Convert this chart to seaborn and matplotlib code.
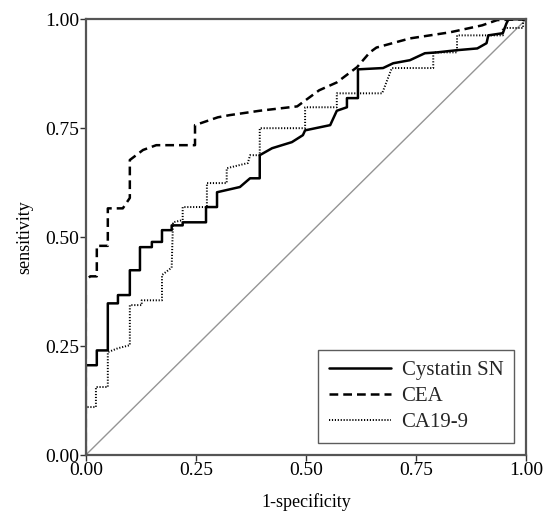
import matplotlib
matplotlib.use("Agg")
import matplotlib.pyplot as plt
import seaborn as sns
import pandas as pd

# ROC curve points
cys_x = [0, 0, 0.025, 0.025, 0.05, 0.05, 0.073, 0.073, 0.10, 0.10,
         0.123, 0.123, 0.15, 0.15, 0.173, 0.173, 0.195, 0.195, 0.22, 0.22,
         0.273, 0.273, 0.298, 0.298, 0.35, 0.373, 0.395, 0.395, 0.423, 0.468,
         0.493, 0.498, 0.555, 0.57, 0.593, 0.593, 0.618, 0.618, 0.675, 0.698,
         0.736, 0.77, 0.798, 0.843, 0.889, 0.91, 0.914, 0.947, 0.955, 0.96, 1.0]
cys_y = [0, 0.206, 0.206, 0.24, 0.24, 0.348, 0.348, 0.367, 0.367, 0.424,
         0.424, 0.477, 0.477, 0.489, 0.489, 0.516, 0.516, 0.527, 0.527, 0.534,
         0.534, 0.569, 0.569, 0.603, 0.615, 0.635, 0.635, 0.688, 0.704, 0.718,
         0.734, 0.745, 0.757, 0.79, 0.798, 0.819, 0.819, 0.885, 0.888, 0.899,
         0.906, 0.922, 0.924, 0.929, 0.933, 0.945, 0.963, 0.968, 0.99, 1.0, 1.0]

cea_x = [0, 0, 0.01, 0.025, 0.025, 0.05, 0.05, 0.084, 0.10, 0.10,
         0.13, 0.16, 0.248, 0.248, 0.30, 0.327, 0.395, 0.48, 0.53, 0.57,
         0.616, 0.645, 0.66, 0.736, 0.827, 0.90, 0.934, 1.0]
cea_y = [0, 0.40, 0.41, 0.41, 0.48, 0.48, 0.566, 0.566, 0.59, 0.677,
         0.70, 0.711, 0.711, 0.757, 0.775, 0.78, 0.79, 0.80, 0.837, 0.855,
         0.89, 0.924, 0.935, 0.956, 0.97, 0.986, 0.998, 1.0]

ca_x = [0, 0, 0.023, 0.023, 0.05, 0.05, 0.073, 0.10, 0.10, 0.127,
        0.127, 0.173, 0.173, 0.195, 0.198, 0.22, 0.22, 0.275, 0.275, 0.32,
        0.32, 0.368, 0.373, 0.395, 0.395, 0.498, 0.498, 0.57, 0.57, 0.673,
        0.695, 0.789, 0.789, 0.843, 0.843, 0.947, 0.947, 0.993, 0.993, 1.0]
ca_y = [0, 0.11, 0.11, 0.156, 0.156, 0.236, 0.245, 0.252, 0.344, 0.344,
        0.355, 0.355, 0.413, 0.43, 0.534, 0.539, 0.569, 0.569, 0.624, 0.624,
        0.658, 0.67, 0.688, 0.688, 0.75, 0.75, 0.798, 0.798, 0.83, 0.83,
        0.888, 0.888, 0.924, 0.924, 0.963, 0.963, 0.98, 0.98, 1.0, 1.0]

ref_x = [0, 1]
ref_y = [0, 1]

labels = ["Cystatin SN", "CEA", "CA19-9"]
ticks = [0.0, 0.25, 0.5, 0.75, 1.0]
tick_labels = ["0.00", "0.25", "0.50", "0.75", "1.00"]

sns.set_theme(style="white")
plt.rcParams["font.family"] = ["Liberation Serif", "DejaVu Serif"]

fig = plt.figure(figsize=(5.43, 5.20), dpi=100)
ax = fig.add_axes([0.158, 0.125, 0.811, 0.838])

sns.lineplot(x=ref_x, y=ref_y, ax=ax, color="#959595", linewidth=1.0,
             estimator=None, sort=False)
sns.lineplot(x=cys_x, y=cys_y, ax=ax, color="black", linewidth=1.8,
             estimator=None, sort=False, label=labels[0])
sns.lineplot(x=cea_x, y=cea_y, ax=ax, color="black", linewidth=1.8,
             estimator=None, sort=False, label=labels[1])
sns.lineplot(x=ca_x, y=ca_y, ax=ax, color="black", linewidth=1.4,
             estimator=None, sort=False, label=labels[2])
lines = ax.get_lines()
lines[2].set_dashes([3.5, 2.0])
lines[3].set_dashes([0.6, 0.9])

ax.set_xlim(0, 1)
ax.set_ylim(0, 1)
ax.set_xticks(ticks)
ax.set_xticklabels(tick_labels)
ax.set_yticks(ticks)
ax.set_yticklabels(tick_labels)
ax.tick_params(axis="both", which="major", direction="out", length=4,
               width=1.0, color="#333333", labelsize=14, pad=1,
               bottom=True, left=True, labelcolor="black")
for sp in ax.spines.values():
    sp.set_color("#555555")
    sp.set_linewidth(1.6)
    sp.set_visible(True)

ax.set_xlabel("1-specificity", fontsize=13, labelpad=10, color="black")
ax.set_ylabel("sensitivity", fontsize=13, labelpad=8, color="black")

leg = ax.legend(loc="lower right", fontsize=15, handlelength=3.0,
                frameon=True, fancybox=False, borderaxespad=0.6,
                handletextpad=0.5, labelspacing=0.3, borderpad=0.5)
leg.get_frame().set_edgecolor("#333333")
leg.get_frame().set_linewidth(1.0)
leg_lines = leg.get_lines()
leg_lines[1].set_dashes([3.5, 2.0])
leg_lines[2].set_dashes([0.6, 0.9])

fig.savefig("out.png", dpi=100, facecolor="white")
